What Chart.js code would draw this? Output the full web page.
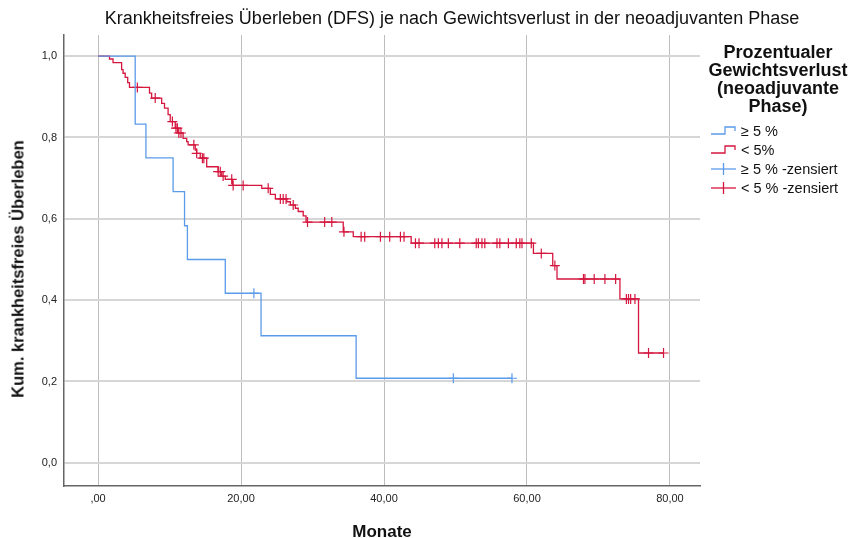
<!DOCTYPE html>
<html lang="de">
<head>
  <meta charset="UTF-8" />
  <title>Krankheitsfreies Überleben (DFS)</title>
  <script src="https://cdn.jsdelivr.net/npm/chart.js"></script>
  <style>
    body {
      margin: 0;
      background: #fff;
      font-family: Arial, "Liberation Sans", sans-serif;
    }
    #wrap {
      position: relative;
      width: 849px;
      height: 538px;
    }
    #title {
      position: absolute;
      top: 8px;
      left: 0;
      width: 904px;
      text-align: center;
      font-size: 18px;
      line-height: 20px;
      color: #111;
      white-space: nowrap;
    }
    #yTitle {
      position: absolute;
      left: 18px;
      top: 269px;
      transform: translate(-50%, -50%) rotate(-90deg);
      font-size: 16.5px;
      font-weight: bold;
      color: #111;
      white-space: nowrap;
    }
    #legendTitle {
      position: absolute;
      top: 43px;
      left: 703px;
      width: 150px;
      text-align: center;
      font-size: 18px;
      font-weight: bold;
      line-height: 18px;
      color: #111;
      white-space: nowrap;
    }
    #legend {
      position: absolute;
      top: 121px;
      left: 711px;
      font-size: 14.5px;
      color: #111;
    }
    .item {
      height: 19px;
      display: flex;
      align-items: center;
      white-space: nowrap;
    }
    .item svg {
      margin-right: 4px;
    }
  </style>
</head>
<body>
<div id="wrap">
  <canvas id="dfsChart" width="849" height="538"></canvas>
  <div id="title">Krankheitsfreies Überleben (DFS) je nach Gewichtsverlust in der neoadjuvanten Phase</div>
  <div id="yTitle">Kum. krankheitsfreies Überleben</div>
  <div id="legendTitle">Prozentualer<br>Gewichtsverlust<br>(neoadjuvante<br>Phase)</div>
  <div id="legend">
    <div class="item">
      <svg width="26" height="14"><polyline points="0,10 14,10 14,3 24,3 24,7" fill="none" stroke="#5b9bea" stroke-width="1.3"/></svg>≥ 5 %
    </div>
    <div class="item">
      <svg width="26" height="14"><polyline points="0,10 14,10 14,3 24,3 24,7" fill="none" stroke="#d5173f" stroke-width="1.3"/></svg>&lt; 5%
    </div>
    <div class="item">
      <svg width="26" height="14"><line x1="0" y1="7" x2="25" y2="7" stroke="#5b9bea" stroke-width="1.3"/><line x1="12.5" y1="1" x2="12.5" y2="13" stroke="#5b9bea" stroke-width="1.3"/></svg>≥ 5 % -zensiert
    </div>
    <div class="item">
      <svg width="26" height="14"><line x1="0" y1="7" x2="25" y2="7" stroke="#d5173f" stroke-width="1.3"/><line x1="12.5" y1="1" x2="12.5" y2="13" stroke="#d5173f" stroke-width="1.3"/></svg>&lt; 5 % -zensiert
    </div>
  </div>
</div>

<script>
  // Achsen
  const xTicks = [0, 20, 40, 60, 80];
  const yTicks = [0, 0.2, 0.4, 0.6, 0.8, 1.0];

  // Gruppe >= 5 %: Ereigniszeitpunkte (Monate) und Überlebensanteil danach
  const highTimes = [0, 5.2, 6.7, 10.5, 12.1, 12.5, 17.8, 22.8, 36.1];
  const highSurv  = [1.0, 0.833, 0.75, 0.667, 0.583, 0.5, 0.417, 0.3125, 0.208];
  const highCensored = [21.8, 49.7, 57.9];

  // Gruppe < 5 %
  const lowTimes = [0, 1.6, 2.1, 3.3, 3.5, 3.8, 4.15, 4.4, 7.2, 7.5, 8.9, 9.3, 9.8, 10.1,
    10.8, 11.2, 11.9, 12.4, 12.6, 13.6, 13.8, 14.3, 15.2, 16.8, 17.3, 17.8, 18.8,
    22.9, 24.1, 24.8, 26.4, 26.9, 27.6, 28.0, 28.7, 29.1, 34.3, 35.7, 43.8, 60.9,
    63.6, 64.2, 73.0, 75.6];
  const lowSurv = [1.0, 0.993, 0.984, 0.967, 0.958, 0.948, 0.935, 0.923, 0.909, 0.897, 0.884, 0.872, 0.856, 0.839,
    0.823, 0.811, 0.798, 0.790, 0.782, 0.769, 0.761, 0.749, 0.728, 0.716, 0.705, 0.697, 0.682,
    0.675, 0.660, 0.649, 0.642, 0.634, 0.626, 0.618, 0.607, 0.592, 0.568, 0.556, 0.540, 0.515,
    0.485, 0.452, 0.403, 0.270];
  const lowCensored = [5.5, 8.0, 10.4, 10.9, 11.1, 11.3, 11.6, 13.4, 13.8, 14.6, 14.8, 16.8, 17.1,
    17.5, 18.7, 18.9, 20.3, 23.8, 25.5, 25.9, 26.3, 27.3, 29.3, 31.7, 32.7, 34.4, 36.8, 37.3,
    39.5, 40.8, 42.3, 42.8, 44.4, 44.9, 47.1, 47.6, 48.1, 49.0, 50.6, 52.9, 53.2, 53.7, 54.1,
    55.8, 56.2, 57.4, 58.5, 59.0, 59.3, 60.6, 62.0, 63.9, 67.9, 68.1, 69.4, 70.9, 72.4,
    73.9, 74.2, 74.5, 75.1, 77.0, 79.1];

  const blue = "#5b9bea";
  const red = "#d5173f";

  function survAt(times, surv, t) {
    let s = surv[0];
    for (let i = 0; i < times.length; i++) {
      if (times[i] <= t) s = surv[i];
    }
    return s;
  }

  function stepLine(times, surv, censored) {
    const pts = times.map((t, i) => ({ x: t, y: surv[i] }));
    const end = Math.max(censored[censored.length - 1], times[times.length - 1]);
    pts.push({ x: end, y: surv[surv.length - 1] });
    return pts;
  }

  function censorPoints(times, surv, censored) {
    return censored.map(t => ({ x: t, y: survAt(times, surv, t) }));
  }

  const fmt = v => v.toFixed(2).replace(".", ",").replace(/^0,/, ",");

  const ctx = document.getElementById("dfsChart").getContext("2d");
  const chart = new Chart(ctx, {
    type: "scatter",
    data: {
      datasets: [
        {
          label: "≥ 5 %",
          data: stepLine(highTimes, highSurv, highCensored),
          showLine: true,
          stepped: "before",
          borderColor: blue,
          borderWidth: 1.3,
          pointRadius: 0,
        },
        {
          label: "< 5%",
          data: stepLine(lowTimes, lowSurv, lowCensored),
          showLine: true,
          stepped: "before",
          borderColor: red,
          borderWidth: 1.3,
          pointRadius: 0,
        },
        {
          label: "≥ 5 % -zensiert",
          data: censorPoints(highTimes, highSurv, highCensored),
          pointStyle: "cross",
          pointRadius: 5,
          borderColor: blue,
          borderWidth: 1.2,
        },
        {
          label: "< 5 % -zensiert",
          data: censorPoints(lowTimes, lowSurv, lowCensored),
          pointStyle: "cross",
          pointRadius: 5,
          borderColor: red,
          borderWidth: 1.2,
        },
      ],
    },
    options: {
      responsive: false,
      animation: false,
      layout: { padding: { top: 35, right: 149, left: 0, bottom: 0 } },
      plugins: {
        legend: { display: false },
        tooltip: { enabled: false },
      },
      scales: {
        x: {
          type: "linear",
          min: -4.76,
          max: 84.2,
          afterBuildTicks: s => { s.ticks = xTicks.map(v => ({ value: v })); },
          afterFit: s => { s.height = 52; },
          ticks: {
            callback: v => fmt(v),
            font: { family: "Arial", size: 11 },
            color: "#222",
            padding: 6,
            maxRotation: 0,
          },
          grid: { color: "#bdbdbd", lineWidth: 1, drawTicks: false },
          border: { color: "#666", width: 1.5 },
          title: {
            display: true,
            text: "Monate",
            font: { family: "Arial", size: 17, weight: "bold", lineHeight: 0.7 },
            color: "#111",
            padding: { top: 0, bottom: 0 },
          },
        },
        y: {
          type: "linear",
          min: -0.057,
          max: 1.052,
          afterBuildTicks: s => { s.ticks = yTicks.map(v => ({ value: v })); },
          afterFit: s => { s.width = 64; },
          ticks: {
            callback: v => v.toFixed(1).replace(".", ","),
            font: { family: "Arial", size: 11 },
            color: "#222",
            padding: 7,
          },
          grid: { color: "#d6d6d6", lineWidth: 2, drawTicks: false },
          border: { color: "#666", width: 1.5 },
        },
      },
    },
  });
</script>
</body>
</html>
